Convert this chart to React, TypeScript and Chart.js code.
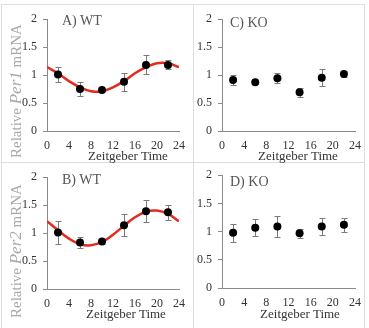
import React, { useEffect, useRef } from "react";
import { Chart, registerables } from "chart.js";

Chart.register(...registerables);

// ---- data ----
const xTicks = [0, 4, 8, 12, 16, 20, 24];
const yTicks = [0, 0.5, 1, 1.5, 2];
const yTickLabels = ["0", "0.5", "1", "1.5", "2"];
const sampleTimes = [2, 6, 10, 14, 18, 22];

const per1WtMean = [1.01, 0.75, 0.73, 0.88, 1.18, 1.18];
const per1WtErr = [0.13, 0.13, 0.02, 0.16, 0.17, 0.08];
const per1KoMean = [0.91, 0.87, 0.94, 0.69, 0.95, 1.02];
const per1KoErr = [0.09, 0.03, 0.09, 0.08, 0.15, 0.06];
const per2WtMean = [1.01, 0.83, 0.85, 1.14, 1.39, 1.37];
const per2WtErr = [0.21, 0.09, 0.05, 0.2, 0.2, 0.13];
const per2KoMean = [0.98, 1.07, 1.09, 0.97, 1.09, 1.12];
const per2KoErr = [0.16, 0.15, 0.18, 0.08, 0.15, 0.13];

const fitTimes = [0, 2, 4, 6, 8, 10, 12, 14, 16, 18, 20, 22, 24];
const per1WtFit = [1.14, 1.03, 0.89, 0.78, 0.71, 0.71, 0.78, 0.89, 1.03, 1.14, 1.21, 1.21, 1.14];
const per2WtFit = [1.21, 1.05, 0.9, 0.8, 0.78, 0.84, 0.97, 1.13, 1.28, 1.38, 1.4, 1.34, 1.21];

const FONT = "'Liberation Serif', 'Times New Roman', serif";
const AXIS = "#8a8a8a";

Chart.defaults.font.family = FONT;

const errorBarPlugin = {
  id: "errbars",
  beforeDatasetDraw(chart: any, args: any, opts: any) {
    if (args.index !== 0) return;
    const { ctx } = chart;
    const x = chart.scales.x;
    const y = chart.scales.y;
    const pts = chart.data.datasets[0].data as { x: number; y: number }[];
    const errs: number[] = opts.errs || [];
    ctx.save();
    ctx.strokeStyle = "#7a7a7a";
    ctx.lineWidth = 1;
    pts.forEach((p, i) => {
      const px = Math.round(x.getPixelForValue(p.x)) + 0.5;
      const top = Math.round(y.getPixelForValue(p.y + errs[i])) + 0.5;
      const bot = Math.round(y.getPixelForValue(p.y - errs[i])) + 0.5;
      ctx.beginPath();
      ctx.moveTo(px, top);
      ctx.lineTo(px, bot);
      ctx.moveTo(px - 3, top);
      ctx.lineTo(px + 3, top);
      ctx.moveTo(px - 3, bot);
      ctx.lineTo(px + 3, bot);
      ctx.stroke();
    });
    ctx.restore();
  },
};

type PanelProps = {
  rect: { left: number; top: number; width: number; height: number };
  area: { left: number; top: number; right: number; bottom: number };
  means: number[];
  errs: number[];
  fit?: number[];
};

const Y_W = 26;
const X_H = 24;

function Panel({ rect, area, means, errs, fit }: PanelProps) {
  const ref = useRef<HTMLCanvasElement>(null);
  useEffect(() => {
    if (!ref.current) return;
    const datasets: any[] = [
      {
        type: "scatter",
        data: sampleTimes.map((t, i) => ({ x: t, y: means[i] })),
        pointRadius: 4,
        pointBackgroundColor: "#000",
        pointBorderWidth: 0,
        showLine: false,
      },
    ];
    if (fit) {
      datasets.push({
        type: "line",
        data: fitTimes.map((t, i) => ({ x: t, y: fit[i] })),
        borderColor: "rgb(226,44,32)",
        borderWidth: 2.5,
        pointRadius: 0,
        tension: 0.4,
        fill: false,
      });
    }
    const pad = {
      left: area.left - rect.left - Y_W,
      right: rect.left + rect.width - area.right,
      top: area.top - rect.top,
      bottom: rect.top + rect.height - area.bottom - X_H,
    };
    const tickFont = { family: FONT, size: 12 };
    const chart = new Chart(ref.current, {
      type: "scatter",
      data: { datasets },
      plugins: [errorBarPlugin],
      options: {
        animation: false,
        responsive: false,
        devicePixelRatio: 1,
        layout: { padding: pad },
        plugins: {
          legend: { display: false },
          tooltip: { enabled: false },
          errbars: { errs },
        } as any,
        scales: {
          x: {
            type: "linear",
            min: 0,
            max: 24,
            afterBuildTicks: (s: any) => {
              s.ticks = xTicks.map((v) => ({ value: v }));
            },
            afterFit: (s: any) => {
              s.height = X_H;
            },
            grid: { display: false, drawTicks: false },
            border: { display: true, color: AXIS, width: 1 },
            ticks: {
              autoSkip: false,
              maxRotation: 0,
              padding: 8,
              color: "#333",
              font: tickFont,
              callback: (v: any) => String(v),
            },
          },
          y: {
            type: "linear",
            min: 0,
            max: 2,
            afterBuildTicks: (s: any) => {
              s.ticks = yTicks.map((v) => ({ value: v }));
            },
            afterFit: (s: any) => {
              s.width = Y_W;
            },
            grid: {
              display: true,
              drawOnChartArea: false,
              drawTicks: true,
              tickLength: 4,
              color: AXIS,
            },
            border: { display: true, color: AXIS, width: 1 },
            ticks: {
              autoSkip: false,
              padding: 6,
              color: "#333",
              font: tickFont,
              callback: (v: any) => {
                const i = yTicks.indexOf(Number(v));
                return i >= 0 ? yTickLabels[i] : String(v);
              },
            },
          },
        },
      } as any,
    });
    return () => {
      chart.destroy();
    };
  }, []);
  return (
    <canvas
      ref={ref}
      width={rect.width}
      height={rect.height}
      style={{
        position: "absolute",
        left: rect.left,
        top: rect.top,
        width: rect.width,
        height: rect.height,
      }}
    />
  );
}

function Text({ x, y, size, color, children, center }: any) {
  return (
    <div
      style={{
        position: "absolute",
        left: center ? x - 100 : x,
        top: y - size * 0.6,
        width: center ? 200 : undefined,
        textAlign: center ? "center" : "left",
        fontFamily: FONT,
        fontSize: size,
        lineHeight: `${size * 1.2}px`,
        color,
        whiteSpace: "nowrap",
      }}
    >
      {children}
    </div>
  );
}

function YLabel({ cx, cy, gene }: { cx: number; cy: number; gene: string }) {
  return (
    <div
      style={{
        position: "absolute",
        left: cx - 10,
        top: cy - 80,
        width: 20,
        height: 160,
        writingMode: "vertical-rl",
        transform: "rotate(180deg)",
        textAlign: "center",
        fontFamily: FONT,
        fontSize: 15,
        lineHeight: "20px",
        color: "#a9a9a9",
        whiteSpace: "nowrap",
      }}
    >
      Relative <span style={{ fontStyle: "italic", fontSize: 17 }}>{gene}</span> mRNA
    </div>
  );
}

export default function App() {
  const line = "#dedede";
  return (
    <div
      style={{
        position: "absolute",
        left: 0,
        top: 0,
        width: 369,
        height: 328,
        background: "#fff",
        overflow: "hidden",
      }}
    >
      <Panel
        rect={{ left: 0, top: 0, width: 193, height: 162 }}
        area={{ left: 47, top: 19, right: 180, bottom: 131 }}
        means={per1WtMean}
        errs={per1WtErr}
        fit={per1WtFit}
      />
      <Panel
        rect={{ left: 193, top: 0, width: 176, height: 162 }}
        area={{ left: 222, top: 19, right: 355, bottom: 131 }}
        means={per1KoMean}
        errs={per1KoErr}
      />
      <Panel
        rect={{ left: 0, top: 162, width: 193, height: 166 }}
        area={{ left: 47, top: 177, right: 180, bottom: 289 }}
        means={per2WtMean}
        errs={per2WtErr}
        fit={per2WtFit}
      />
      <Panel
        rect={{ left: 193, top: 162, width: 176, height: 166 }}
        area={{ left: 222, top: 175, right: 355, bottom: 288 }}
        means={per2KoMean}
        errs={per2KoErr}
      />

      {/* frame and separators */}
      <div style={{ position: "absolute", left: 1, top: 4, width: 364, height: 330, border: `1px solid ${line}`, boxSizing: "border-box" }} />
      <div style={{ position: "absolute", left: 193, top: 4, width: 1, height: 324, background: line }} />
      <div style={{ position: "absolute", left: 1, top: 162, width: 364, height: 1, background: line }} />

      <Text x={62} y={21} size={14} color="#555">A) WT</Text>
      <Text x={230} y={23} size={14} color="#555">C) KO</Text>
      <Text x={62} y={180} size={14} color="#555">B) WT</Text>
      <Text x={230} y={182} size={14} color="#555">D) KO</Text>

      <Text x={128} y={156} size={13} color="#333" center>Zeitgeber Time</Text>
      <Text x={298} y={156} size={13} color="#333" center>Zeitgeber Time</Text>
      <Text x={126} y={314} size={13} color="#333" center>Zeitgeber Time</Text>
      <Text x={300} y={314} size={13} color="#333" center>Zeitgeber Time</Text>

      <YLabel cx={16} cy={91} gene="Per1" />
      <YLabel cx={16} cy={251} gene="Per2" />
    </div>
  );
}
